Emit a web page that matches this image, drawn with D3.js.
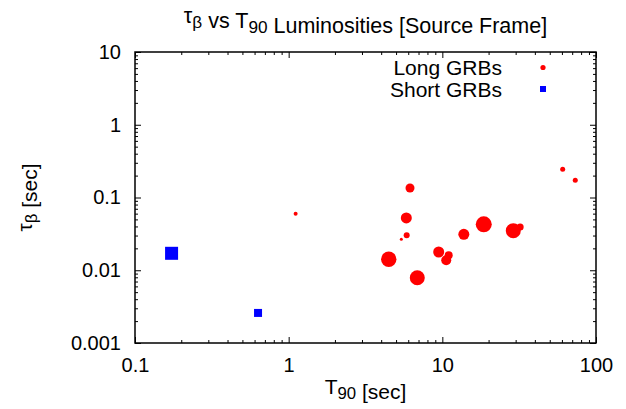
<!DOCTYPE html>
<html>
<head>
<meta charset="utf-8">
<script src="https://cdn.jsdelivr.net/npm/d3@7"></script>
<style>
  html, body { margin: 0; padding: 0; background: #fff; }
  svg { display: block; }
  text { font-family: "Liberation Sans", Arial, Helvetica, sans-serif; fill: #000; }
</style>
</head>
<body>
<svg id="chart" width="626" height="409"></svg>
<script>
// Long GRBs: T90 (sec), tau_beta (sec), relative marker weight
const longT90 = [1.11, 6.16, 5.83, 5.86, 5.41, 4.48, 6.87, 9.47, 11.0, 10.6, 13.8, 18.6, 28.96, 32.1, 60.7, 73.3];
const longTau = [0.0599, 0.135, 0.0523, 0.0302, 0.0266, 0.01414, 0.0079, 0.01782, 0.01605, 0.01371, 0.0312, 0.0428, 0.035, 0.0393, 0.244, 0.1723];
const longWeight = [2, 4.5, 5.5, 3, 1.5, 7.7, 7.5, 5.5, 4, 5, 5.5, 8, 7.5, 3.5, 2.5, 2.5];

// Short GRBs
const shortT90 = [0.173, 0.632];
const shortTau = [0.0171, 0.00259];
const shortWeight = [6.5, 4];

const xTickLabels = ["0.1", "1", "10", "100"];
const yTickLabels = ["0.001", "0.01", "0.1", "1", "10"];

const W = 626, H = 409;
const margin = { left: 135, right: 30, top: 52, bottom: 66 };
const x0 = margin.left, x1 = W - margin.right, y0 = H - margin.bottom, y1 = margin.top;

const svg = d3.select("#chart");

const x = d3.scaleLog().domain([0.1, 100]).range([x0, x1]);
const y = d3.scaleLog().domain([0.001, 10]).range([y0, y1]);
const r = d3.scaleLinear().domain([0, 1]).range([0, 1]);

const xMajor = xTickLabels.map(Number);
const yMajor = yTickLabels.map(Number);
const isMajor = v => Math.abs(Math.log10(v) - Math.round(Math.log10(v))) < 1e-9;
const xMinor = x.ticks().filter(v => !isMajor(v));
const yMinor = y.ticks().filter(v => !isMajor(v));

const FS = 20;
const MAJ = 6, MIN = 3;

function styleAxis(g) {
  g.select(".domain").remove();
  g.selectAll(".tick line").attr("stroke", "#000").attr("stroke-width", 1);
  g.selectAll(".tick text").attr("font-size", FS).attr("font-family", null).attr("fill", "#000");
}

// Bottom axis with labels
svg.append("g").attr("transform", `translate(0,${y0})`)
  .call(d3.axisBottom(x).tickValues(xMajor).tickSize(-MAJ).tickPadding(15)
    .tickFormat((d, i) => xTickLabels[i]))
  .call(styleAxis);
svg.append("g").attr("transform", `translate(0,${y0})`)
  .call(d3.axisBottom(x).tickValues(xMinor).tickSize(-MIN).tickFormat(""))
  .call(styleAxis);
// Top mirror ticks
svg.append("g").attr("transform", `translate(0,${y1})`)
  .call(d3.axisTop(x).tickValues(xMajor).tickSize(-MAJ).tickFormat(""))
  .call(styleAxis);
svg.append("g").attr("transform", `translate(0,${y1})`)
  .call(d3.axisTop(x).tickValues(xMinor).tickSize(-MIN).tickFormat(""))
  .call(styleAxis);

// Left axis with labels
svg.append("g").attr("transform", `translate(${x0},0)`)
  .call(d3.axisLeft(y).tickValues(yMajor).tickSize(-MAJ).tickPadding(14)
    .tickFormat((d, i) => yTickLabels[i]))
  .call(styleAxis);
svg.append("g").attr("transform", `translate(${x0},0)`)
  .call(d3.axisLeft(y).tickValues(yMinor).tickSize(-MIN).tickFormat(""))
  .call(styleAxis);
// Right mirror ticks
svg.append("g").attr("transform", `translate(${x1},0)`)
  .call(d3.axisRight(y).tickValues(yMajor).tickSize(-MAJ).tickFormat(""))
  .call(styleAxis);
svg.append("g").attr("transform", `translate(${x1},0)`)
  .call(d3.axisRight(y).tickValues(yMinor).tickSize(-MIN).tickFormat(""))
  .call(styleAxis);

// Plot frame
svg.append("rect")
  .attr("x", x0).attr("y", y1).attr("width", x1 - x0).attr("height", y0 - y1)
  .attr("fill", "none").attr("stroke", "#000").attr("stroke-width", 1.5);

// Long GRBs (red circles)
svg.append("g").selectAll("circle")
  .data(longT90.map((t, i) => ({ t, tau: longTau[i], w: longWeight[i] })))
  .join("circle")
  .attr("cx", d => x(d.t))
  .attr("cy", d => y(d.tau))
  .attr("r", d => r(d.w))
  .attr("fill", "#ff0000");

// Short GRBs (blue squares)
svg.append("g").selectAll("rect")
  .data(shortT90.map((t, i) => ({ t, tau: shortTau[i], w: shortWeight[i] })))
  .join("rect")
  .attr("x", d => x(d.t) - r(d.w))
  .attr("y", d => y(d.tau) - r(d.w))
  .attr("width", d => 2 * r(d.w))
  .attr("height", d => 2 * r(d.w))
  .attr("fill", "#0000ff");

// Legend
const leg = svg.append("g");
leg.append("text").attr("x", 502).attr("y", 75).attr("text-anchor", "end")
  .attr("font-size", FS + 1).text("Long GRBs");
leg.append("circle").attr("cx", 543).attr("cy", 67.5).attr("r", 2.6).attr("fill", "#ff0000");
leg.append("text").attr("x", 502).attr("y", 97).attr("text-anchor", "end")
  .attr("font-size", FS + 1).text("Short GRBs");
leg.append("rect").attr("x", 540).attr("y", 86).attr("width", 6).attr("height", 6).attr("fill", "#0000ff");

// Text with subscripts
function richText(sel, parts) {
  parts.forEach(p => {
    if (p.sub) {
      sel.append("tspan").attr("font-size", "0.8em").attr("dy", "0.3em").text(p.s);
      sel.append("tspan").attr("dy", "-0.24em").text("");
    } else {
      sel.append("tspan").text(p.s);
    }
  });
}

// Title
const title = svg.append("text").attr("x", (x0 + x1) / 2).attr("y", 23)
  .attr("text-anchor", "middle").attr("font-size", 21.5);
richText(title, [{ s: "τ" }, { s: "β", sub: true }, { s: " vs T" }, { s: "90", sub: true }, { s: " Luminosities [Source Frame]" }]);

// X axis title
const xl = svg.append("text").attr("x", (x0 + x1) / 2).attr("y", 394)
  .attr("text-anchor", "middle").attr("font-size", FS + 1);
richText(xl, [{ s: "T" }, { s: "90", sub: true }, { s: " [sec]" }]);

// Y axis title
const yl = svg.append("text")
  .attr("transform", `translate(32,${(y0 + y1) / 2}) rotate(-90)`)
  .attr("text-anchor", "middle").attr("font-size", FS + 1);
richText(yl, [{ s: "τ" }, { s: "β", sub: true }, { s: " [sec]" }]);
</script>
</body>
</html>
